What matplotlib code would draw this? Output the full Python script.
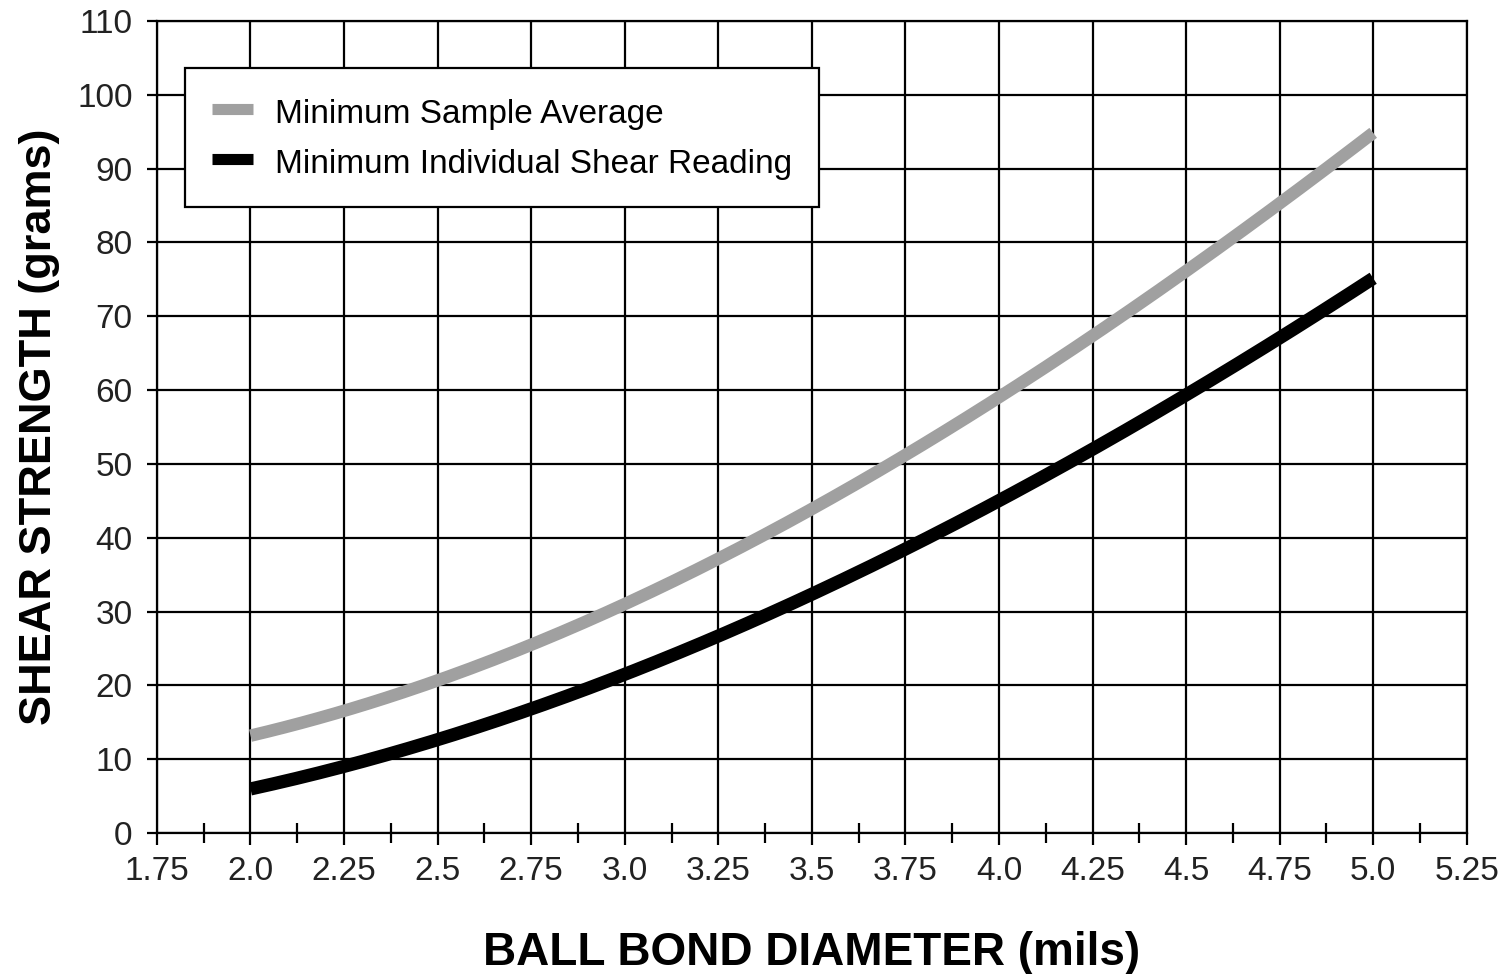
import numpy as np
import matplotlib.pyplot as plt
from matplotlib.ticker import MultipleLocator, FixedLocator

plt.rcParams['font.family'] = ['Liberation Sans', 'DejaVu Sans']

# ball bond diameter (mils)
diameter = [2.0, 2.25, 2.5, 2.75, 3.0, 3.25, 3.5, 3.75, 4.0, 4.25, 4.5, 4.75, 5.0]
# shear strength (grams)
min_sample_avg = [12.9, 16.9, 20.8, 25.5, 30.9, 37.0, 43.8, 51.2, 59.0, 67.5, 76.3, 85.2, 94.8]
min_individual = [5.9, 9.2, 12.6, 16.7, 21.4, 26.8, 32.2, 38.6, 45.2, 52.0, 59.2, 66.9, 75.3]

xticks = [1.75, 2.0, 2.25, 2.5, 2.75, 3.0, 3.25, 3.5, 3.75, 4.0, 4.25, 4.5, 4.75, 5.0, 5.25]
xtick_labels = ['1.75', '2.0', '2.25', '2.5', '2.75', '3.0', '3.25', '3.5',
                '3.75', '4.0', '4.25', '4.5', '4.75', '5.0', '5.25']

fig = plt.figure(figsize=(15.09, 9.74), dpi=100)
ax = fig.add_axes([0.104, 0.1448, 0.868, 0.8336])

# smooth the curves a bit between read points
xs = np.linspace(2.0, 5.0, 200)
ys1 = np.polyval(np.polyfit(diameter, min_sample_avg, 3), xs)
ys2 = np.polyval(np.polyfit(diameter, min_individual, 3), xs)

ax.plot(xs, ys1, color='#a0a0a0', lw=9, solid_capstyle='butt', label='Minimum Sample Average', zorder=3)
ax.plot(xs, ys2, color='black', lw=9.5, solid_capstyle='butt', label='Minimum Individual Shear Reading', zorder=3)

ax.set_xlim(1.75, 5.25)
ax.set_ylim(0, 110)
ax.set_xticks(xticks)
ax.set_xticklabels(xtick_labels)
ax.xaxis.set_minor_locator(FixedLocator(np.arange(1.875, 5.25, 0.25)))
ax.yaxis.set_major_locator(MultipleLocator(10))

ax.grid(True, which='major', color='black', lw=1.6)
for s in ax.spines.values():
    s.set_linewidth(1.6)
ax.tick_params(axis='both', which='major', direction='out', length=8.5, width=1.6,
               labelsize=24, labelcolor='#222222', pad=8)
ax.tick_params(axis='x', which='minor', direction='inout', length=15, width=1.6)
ax.tick_params(axis='y', which='major', length=7.5, pad=10)

ax.set_xlabel('BALL BOND DIAMETER (mils)', fontsize=33, fontweight='bold', labelpad=32)
ax.set_ylabel('SHEAR STRENGTH (grams)', fontsize=32.5, fontweight='bold', labelpad=12)

leg = ax.legend(loc='upper left', bbox_to_anchor=(0.0214, 0.942), fontsize=24,
                frameon=True, fancybox=False, framealpha=1, handlelength=1.25,
                handleheight=1.2, handletextpad=0.65, borderpad=0.8, labelspacing=0.45,
                borderaxespad=0)
leg.get_frame().set_edgecolor('black')
leg.get_frame().set_linewidth(1.6)
leg.set_zorder(5)
for line in leg.get_lines():
    line.set_linewidth(8)

fig.savefig('out.png', dpi=100)
